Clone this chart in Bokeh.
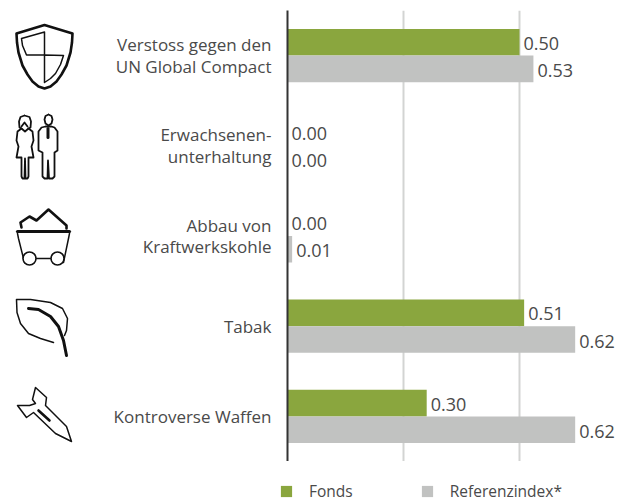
from bokeh.plotting import figure
from bokeh.embed import file_html
from bokeh.resources import INLINE
from bokeh.layouts import row, column
from bokeh.models import (ColumnDataSource, FactorRange, Range1d, FixedTicker, Legend, LegendItem)
from bokeh.transform import dodge
from bokeh.core.properties import value

categories = ["Verstoss gegen den\nUN Global Compact", "Erwachsenen-\nunterhaltung",
              "Abbau von\nKraftwerkskohle", "Tabak", "Kontroverse Waffen"]
fonds = [0.50, 0.00, 0.00, 0.51, 0.30]
referenz = [0.53, 0.00, 0.01, 0.62, 0.62]
grid_ticks = [0.25, 0.50]
series_names = ["Fonds", "Referenzindex*"]

GREEN = "#8aa63e"
GREY = "#c1c2c1"
TEXT = "#4a4a4a"
FONT = "Open Sans"

source = ColumnDataSource(dict(
    cat=categories, fonds=fonds, referenz=referenz,
    fonds_t=[f"{v:.2f}" for v in fonds], referenz_t=[f"{v:.2f}" for v in referenz]))

y_range = FactorRange(factors=categories[::-1], range_padding=0, factor_padding=0)
p = figure(width=525, height=461, x_range=Range1d(0, 346 / 464), y_range=y_range,
           output_backend="svg", toolbar_location=None, title=None,
           min_border_left=179, min_border_right=0, min_border_top=10, min_border_bottom=0)
p.outline_line_color = None
p.background_fill_color = None
p.xaxis.visible = False
p.ygrid.visible = False
p.xgrid.ticker = FixedTicker(ticks=grid_ticks)
p.xgrid.grid_line_color = "#d3d4d3"
p.xgrid.grid_line_width = 2
p.yaxis.axis_line_color = "#333333"
p.yaxis.axis_line_width = 2
p.yaxis.major_tick_line_color = None
p.yaxis.minor_tick_line_color = None
p.yaxis.major_label_standoff = 10
p.yaxis.major_label_text_font = FONT
p.yaxis.major_label_text_font_size = "17px"
p.yaxis.major_label_text_color = TEXT
p.yaxis.major_label_text_line_height = 0.95

bar_h = 0.295
p.hbar(y=dodge("cat", bar_h / 2, range=y_range), right="fonds", left=0, height=bar_h,
       source=source, color=GREEN, line_color=None)
p.hbar(y=dodge("cat", -bar_h / 2, range=y_range), right="referenz", left=0, height=bar_h,
       source=source, color=GREY, line_color=None)
for col, off in (("fonds", bar_h / 2 - 0.012), ("referenz", -bar_h / 2 - 0.018)):
    p.text(x=col, y=dodge("cat", off, range=y_range), text=col + "_t", source=source,
           x_offset=4, text_align="left", text_baseline="middle",
           text_font=value(FONT), text_font_size="18px", text_color=TEXT)

# legend strip: its keys sit outside the visible range, only the legend shows them
lg = figure(width=633, height=40, x_range=Range1d(0, 1), y_range=Range1d(0, 1),
            output_backend="svg", toolbar_location=None, title=None,
            min_border=0, min_border_left=0, min_border_right=0, min_border_top=0, min_border_bottom=0)
lg.axis.visible = False
lg.grid.visible = False
lg.outline_line_color = None
k1 = lg.hbar(y=[5], right=[5], left=[4], height=1, color=GREEN, line_color=None)
k2 = lg.hbar(y=[5], right=[5], left=[4], height=1, color=GREY, line_color=None)
legend = Legend(items=[LegendItem(label=series_names[0], renderers=[k1]),
                       LegendItem(label=series_names[1], renderers=[k2])],
                orientation="horizontal", location=(279, -1),
                glyph_width=14, glyph_height=14, label_standoff=16, spacing=67,
                padding=0, margin=0, border_line_color=None, background_fill_alpha=0,
                label_text_font=FONT, label_text_font_size="15.5px", label_text_color=TEXT)
lg.add_layout(legend, "center")

# decorative icons, in page pixels (row aligns this frame's top with the chart's)
ic = figure(width=108, height=461, x_range=Range1d(0, 108), y_range=Range1d(461, 10),
            output_backend="svg", toolbar_location=None, title=None,
            min_border=0, min_border_left=0, min_border_right=0, min_border_top=0, min_border_bottom=0)
ic.axis.visible = False
ic.grid.visible = False
ic.outline_line_color = None

def path(pts, w=1.5):
    ic.line([a for a, _ in pts], [b for _, b in pts], line_color="#111111", line_width=w,
            line_join="round", line_cap="round")

# shield
path([(44, 24.5), (16, 33), (16.5, 42), (18, 52), (22, 65), (27, 74), (32, 81), (38, 86), (44, 88),
      (50, 86), (56, 81), (61, 74), (66, 65), (70, 52), (71.5, 42), (72, 33), (44, 24.5)], 2.6)
path([(44, 31.5), (21, 38), (22, 45), (26, 54.5), (44, 54.5), (44, 31.5)], 1.5)
path([(44, 54.5), (63, 55), (60, 64), (55, 73), (50, 78), (44, 82), (44, 54.5)], 1.5)
# woman
path([(24, 115), (20, 116.5), (18.5, 121), (19, 127), (21, 128), (17, 131), (16, 140), (18, 146), (16, 157), (21, 157),
      (21, 176), (22, 178), (24, 178), (24.5, 158), (25, 178), (27, 178), (28, 176), (28, 157), (33, 157), (31, 146),
      (33, 140), (32, 131), (28, 128), (30, 127), (30.5, 121), (29, 116.5), (24, 115)], 1.8)
path([(21, 128), (24.5, 131), (28, 128)], 1.8)
path([(21, 126), (24, 122), (27, 126)], 1.8)
# man
path([(48, 114), (45, 115.5), (44, 119), (45, 123), (48, 125), (51, 123), (52, 119), (51, 115.5), (48, 114)], 1.8)
path([(45, 126), (41, 127), (38, 131), (38, 150), (42, 152), (42, 176), (44, 178), (47, 178), (47.5, 160),
      (48.5, 178), (52, 178), (54, 176), (54, 152), (57, 150), (57, 131), (54, 127), (51, 126), (45, 126)], 1.8)
path([(47.5, 128), (47.5, 137)], 3)
# coal cart
path([(21, 227), (20, 222), (29, 216), (36, 220), (48, 209), (66, 225), (66, 228)], 2.6)
path([(17, 231), (69, 231)], 3.2)
path([(17, 233), (18, 238), (24, 262)], 1.5)
path([(69, 233), (68, 238), (63, 262)], 1.5)
path([(35, 258), (51, 258)], 1.5)
ic.scatter([29, 57], [258, 258], marker="circle", size=13, fill_color="white", line_color="#111111", line_width=1.6)
# leaf
path([(53, 342), (40, 338), (28, 333), (20, 323), (16.5, 312), (16, 299), (30, 299), (50, 302), (62, 308),
      (67, 318), (66, 330), (64, 335)], 1.5)
path([(28, 308), (38, 309), (50, 316), (58, 326), (63, 340), (66, 355)], 3)
# rocket
path([(71, 441), (66, 426), (45, 405), (46, 397), (35, 387), (32, 399), (35, 403), (29, 405), (17, 405),
      (26, 417), (33, 412), (55, 433), (71, 441)], 1.5)
path([(38, 410), (49, 420)], 2.6)

layout = column(row(ic, p, spacing=0), lg, spacing=0)
open("out.html", "w").write(file_html(layout, INLINE))
